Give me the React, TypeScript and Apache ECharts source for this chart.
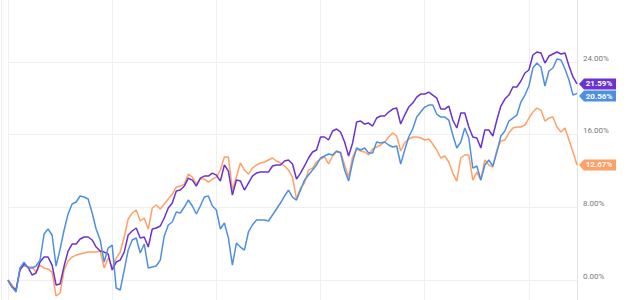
import React, { useEffect, useRef } from "react";
import * as echarts from "echarts";

// Weekly closes, cumulative total return in %
const seriesNames = ["Fund A", "Fund B", "Fund C"];
const seriesColors = ["#ffa066", "#6a33cf", "#4f8fe0"];

const startDate = "2022-01-03";
const pointCount = 143;

const orangeValues = [
  0.00, -0.55, -1.10, 1.32, 1.54, 1.43, 1.43, 0.88, 1.65, 1.32,
  1.21, 0.88, -1.76, -1.43, 1.10, 2.09, 2.53, 2.75, 2.86, 2.97,
  3.08, 3.08, 3.08, 3.19, 1.32, 2.42, 1.32, 2.42, 3.08, 4.74,
  6.72, 7.38, 7.71, 6.50, 6.83, 5.62, 7.93, 8.26, 7.82, 8.37,
  8.92, 9.47, 10.24, 10.35, 10.57, 11.67, 11.34, 10.57, 11.12, 11.12,
  10.79, 11.12, 11.34, 12.11, 13.55, 13.55, 9.91, 11.34, 12.89, 12.11,
  11.67, 12.33, 12.67, 12.89, 13.00, 13.22, 13.44, 13.11, 12.89, 12.56,
  12.11, 11.34, 8.92, 10.13, 10.68, 12.11, 12.33, 13.00, 13.33, 13.55,
  12.78, 13.66, 14.10, 14.10, 12.67, 11.34, 13.55, 14.43, 14.21, 14.10,
  13.77, 14.43, 14.65, 14.87, 15.20, 15.75, 16.19, 15.86, 14.21, 15.09,
  15.53, 15.75, 15.75, 15.64, 15.42, 15.53, 14.98, 14.32, 13.44, 13.66,
  13.00, 11.78, 10.90, 13.44, 13.77, 13.77, 11.01, 11.89, 11.01, 13.22,
  12.67, 12.44, 14.32, 15.31, 15.42, 16.19, 16.74, 16.85, 16.85, 17.07,
  17.84, 18.50, 18.94, 18.72, 17.51, 17.84, 17.95, 16.85, 16.30, 16.74,
  15.42, 14.10, 12.67,
];

const purpleValues = [
  0.00, -0.77, -1.10, 1.10, 1.76, 1.43, 0.55, 0.77, 1.98, 2.53,
  2.53, 1.65, -0.55, -0.44, 1.54, 3.19, 3.96, 3.96, 4.52, 4.74,
  4.74, 4.41, 3.63, 3.19, 3.08, 2.86, 1.10, 1.98, 2.20, 3.08,
  4.96, 5.40, 5.73, 4.63, 4.74, 3.63, 5.62, 5.73, 5.95, 6.83,
  7.93, 8.48, 9.80, 9.91, 10.35, 11.23, 11.01, 10.35, 11.23, 11.45,
  11.45, 11.78, 11.56, 10.90, 12.67, 12.00, 9.36, 11.01, 10.90, 9.91,
  10.68, 11.45, 11.78, 11.89, 11.89, 11.89, 12.56, 12.67, 12.67, 13.11,
  13.22, 12.78, 11.12, 11.78, 12.56, 13.44, 14.10, 14.32, 15.75, 15.75,
  15.42, 16.41, 16.63, 16.30, 15.20, 13.66, 15.09, 17.40, 17.51, 17.18,
  17.29, 16.96, 17.84, 18.06, 18.06, 18.50, 18.83, 18.94, 17.18, 18.17,
  19.05, 19.49, 20.15, 20.48, 20.48, 20.70, 20.37, 20.04, 18.83, 18.83,
  19.16, 17.62, 16.74, 18.39, 18.39, 16.85, 15.75, 15.64, 14.54, 16.52,
  16.52, 15.86, 17.62, 19.16, 19.93, 20.37, 21.26, 21.26, 21.92, 22.80,
  23.13, 24.78, 25.11, 25.00, 23.90, 24.67, 24.89, 25.11, 24.89, 25.00,
  23.57, 22.36, 21.59,
];

const blueValues = [
  0.00, -0.77, -1.32, 1.32, 1.98, 1.32, 1.32, 1.54, 2.20, 5.07,
  5.62, 4.96, 1.54, 3.41, 5.51, 7.27, 8.37, 8.59, 9.25, 9.14,
  8.92, 7.38, 5.62, 4.41, 1.98, 3.52, 3.85, -0.88, -1.10, 1.10,
  3.30, 4.41, 4.63, 2.97, 3.96, 1.32, 1.43, 1.54, 2.20, 4.85,
  6.06, 6.39, 7.49, 7.38, 8.04, 8.81, 8.15, 7.27, 8.15, 9.14,
  9.25, 8.15, 7.71, 5.62, 6.28, 4.63, 1.65, 4.07, 3.63, 3.30,
  5.29, 6.06, 6.61, 6.61, 6.61, 6.50, 7.16, 7.82, 8.48, 9.25,
  9.91, 9.14, 8.81, 9.91, 11.01, 11.56, 12.11, 12.67, 13.44, 13.66,
  13.88, 13.77, 14.21, 13.99, 12.11, 10.90, 13.00, 14.54, 14.32, 14.54,
  13.99, 13.99, 15.20, 15.09, 15.20, 14.87, 14.65, 14.76, 12.78, 14.32,
  15.75, 16.63, 17.95, 18.50, 19.05, 19.27, 19.27, 18.28, 17.95, 17.95,
  17.62, 15.97, 14.54, 15.20, 16.74, 15.64, 12.33, 12.56, 11.01, 12.67,
  13.22, 12.56, 14.10, 15.86, 16.41, 17.51, 17.84, 18.17, 19.60, 20.37,
  21.37, 23.35, 23.90, 23.46, 21.37, 23.02, 23.35, 24.34, 24.23, 23.24,
  22.03, 20.37, 20.56,
];

const yTickValues = [0, 8, 16, 24];
const yRange = { min: -2.2, max: 30.84 };

function buildDates(): string[] {
  const out: string[] = [];
  const t0 = Date.parse(startDate + "T00:00:00Z");
  for (let i = 0; i < pointCount; i++) {
    out.push(new Date(t0 + i * 7 * 86400000).toISOString().slice(0, 10));
  }
  return out;
}

export default function App() {
  const ref = useRef<HTMLDivElement>(null);

  useEffect(() => {
    if (!ref.current) return;
    const chart = echarts.init(ref.current, null, { renderer: "svg" });
    const dates = buildDates();
    const monthOf = (s: string) => Number(s.slice(5, 7));

    const tagOffsets = [0, 0, 2.7];
    const allValues = [orangeValues, purpleValues, blueValues];

    const series = allValues.map((vals, k) => {
      const last = vals.length - 1;
      return {
        name: seriesNames[k],
        type: "line",
        data: vals,
        symbol: "none",
        lineStyle: { width: 1.5, color: seriesColors[k] },
        itemStyle: { color: seriesColors[k] },
        z: 2 + k,
        markPoint: {
          symbol: "path://M0,5.5L5,0L37,0L37,11L5,11Z",
          symbolSize: [37, 11],
          symbolKeepAspect: false,
          symbolOffset: [20.5, tagOffsets[k]],
          itemStyle: { color: seriesColors[k] },
          label: {
            show: true,
            position: "inside",
            color: "#ffffff",
            fontSize: 8,
            fontWeight: "bold",
            fontFamily: "Roboto",
            offset: [1.5, 0],
            formatter: (p: any) => Number(p.value).toFixed(2) + "%",
          },
          data: [{ coord: [dates[last], vals[last]], value: vals[last] }],
        },
      };
    });

    chart.setOption({
      animation: false,
      backgroundColor: "#ffffff",
      grid: { left: 8, right: 63, top: 0, bottom: 0, containLabel: false },
      graphic: [
        {
          type: "line",
          shape: { x1: 1.5, y1: 0, x2: 1.5, y2: 300 },
          style: { stroke: "#ececec", lineWidth: 1 },
        },
      ],
      xAxis: {
        type: "category",
        data: dates,
        boundaryGap: false,
        axisLine: { show: false },
        axisTick: { show: false },
        axisLabel: { show: false },
        splitLine: {
          show: true,
          interval: (i: number) => {
            if (i === 0) return true;
            const m = monthOf(dates[i]);
            return m !== monthOf(dates[i - 1]) && (m === 1 || m === 7);
          },
          lineStyle: { color: "#efefef", width: 1 },
        },
      },
      yAxis: {
        type: "value",
        position: "right",
        min: yRange.min,
        max: yRange.max,
        axisLine: { show: true, lineStyle: { color: "#e3e3e3", width: 1 } },
        axisTick: { show: false, customValues: yTickValues },
        splitLine: { show: true, lineStyle: { color: "#efefef", width: 1 } },
        axisLabel: {
          show: true,
          customValues: yTickValues,
          margin: 6,
          color: "#7a7a7a",
          fontSize: 8,
          fontFamily: "Roboto",
          verticalAlign: "bottom",
          formatter: (v: number) => v.toFixed(2) + "%",
        },
      },
      series,
    });

    return () => chart.dispose();
  }, []);

  return (
    <div
      ref={ref}
      style={{ position: "fixed", left: 0, top: 0, width: 640, height: 300 }}
    />
  );
}
